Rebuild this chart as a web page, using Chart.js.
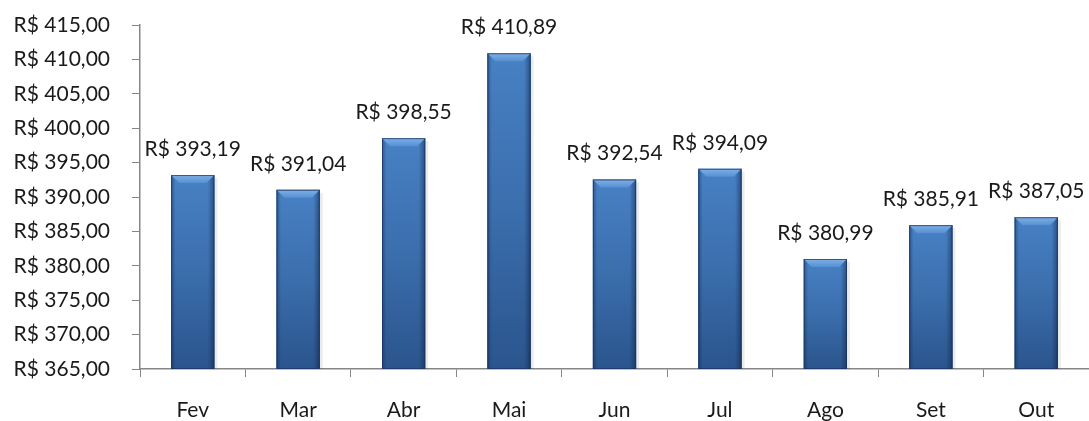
<!DOCTYPE html>
<html>
<head>
<meta charset="utf-8">
<script src="https://cdn.jsdelivr.net/npm/chart.js@4/dist/chart.umd.min.js"></script>
<style>
  body { margin: 0; background: #fff; }
  #wrap { width: 1089px; height: 421px; }
</style>
</head>
<body>
<div id="wrap"><canvas id="precoChart"></canvas></div>
<script>
const meses = ["Fev", "Mar", "Abr", "Mai", "Jun", "Jul", "Ago", "Set", "Out"];
const valores = [393.19, 391.04, 398.55, 410.89, 392.54, 394.09, 380.99, 385.91, 387.05];
const eixoMin = 365;
const eixoMax = 415;
const eixoPasso = 5;

function formatReal(v) {
    return "R$ " + v.toFixed(2).replace(".", ",");
}

// bars get a soft shading and bevelled top, like the office chart
const barShade = {
    id: "barShade",
    afterDatasetsDraw(chart) {
        const ctx = chart.ctx;
        chart.getDatasetMeta(0).data.forEach(function(bar) {
            const left = bar.x - bar.width / 2;
            const right = bar.x + bar.width / 2;
            const top = bar.y;
            const bottom = Math.min(bar.base, chart.chartArea.bottom);
            const w = right - left;
            ctx.save();
            // soft shadow on the right
            ctx.fillStyle = "rgba(0,0,0,0.08)";
            ctx.fillRect(right, top + 3, 3, bottom - top - 3);
            const v = ctx.createLinearGradient(0, top, 0, bottom);
            v.addColorStop(0, "#4a86cb");
            v.addColorStop(0.5, "#3d72b2");
            v.addColorStop(1, "#2c5790");
            ctx.fillStyle = v;
            ctx.fillRect(left, top, w, bottom - top);
            const g = ctx.createLinearGradient(left, 0, right, 0);
            g.addColorStop(0, "rgba(15,35,70,0.45)");
            g.addColorStop(0.1, "rgba(15,35,70,0.05)");
            g.addColorStop(0.85, "rgba(15,35,70,0.05)");
            g.addColorStop(1, "rgba(15,35,70,0.55)");
            ctx.fillStyle = g;
            ctx.fillRect(left, top, w, bottom - top);
            // bevel on top
            const b = 8;
            const h = ctx.createLinearGradient(0, top, 0, top + b);
            h.addColorStop(0, "#7fb0e6");
            h.addColorStop(1, "#5690d2");
            ctx.fillStyle = h;
            ctx.beginPath();
            ctx.moveTo(left, top);
            ctx.lineTo(right, top);
            ctx.lineTo(right - b, top + b);
            ctx.lineTo(left + b, top + b);
            ctx.closePath();
            ctx.fill();
            ctx.strokeStyle = "rgba(25,50,95,0.7)";
            ctx.lineWidth = 1;
            ctx.strokeRect(left + 0.5, top + 0.5, w - 1, bottom - top - 1);
            ctx.restore();
        });
    }
};

const valueLabels = {
    id: "valueLabels",
    afterDatasetsDraw(chart) {
        const ctx = chart.ctx;
        const ds = chart.data.datasets[0];
        ctx.save();
        ctx.font = "21px Lato";
        ctx.fillStyle = "#1a1a1a";
        ctx.textAlign = "center";
        ctx.textBaseline = "middle";
        chart.getDatasetMeta(0).data.forEach(function(bar, i) {
            ctx.fillText(formatReal(ds.data[i]), bar.x, bar.y - 26);
        });
        ctx.restore();
    }
};

const ctx = document.getElementById("precoChart").getContext("2d");
new Chart(ctx, {
    type: "bar",
    data: {
        labels: meses,
        datasets: [{
            data: valores,
            backgroundColor: "#3567a6",
            barPercentage: 0.82,
            categoryPercentage: 0.5
        }]
    },
    options: {
        responsive: true,
        maintainAspectRatio: false,
        animation: false,
        layout: { padding: { top: 25, right: 0, left: 0, bottom: 0 } },
        plugins: {
            legend: { display: false },
            tooltip: { enabled: false }
        },
        scales: {
            x: {
                grid: { drawOnChartArea: false, tickLength: 8, color: "#868686" },
                border: { color: "#868686", width: 1.5 },
                ticks: { color: "#1a1a1a", font: { family: "Lato", size: 21 }, padding: 21 },
                afterFit(scale) { scale.height = 52; }
            },
            y: {
                min: eixoMin,
                max: eixoMax,
                grid: { drawOnChartArea: false, tickLength: 8, color: "#868686" },
                border: { color: "#868686", width: 1.5 },
                ticks: {
                    stepSize: eixoPasso,
                    color: "#1a1a1a",
                    font: { family: "Lato", size: 21 },
                    padding: 22,
                    callback: function(v) { return formatReal(v); }
                },
                afterFit(scale) {
                    scale.width = 140;
                    scale.paddingTop = 0;
                    scale.paddingBottom = 0;
                }
            }
        }
    },
    plugins: [barShade, valueLabels]
});
</script>
</body>
</html>
